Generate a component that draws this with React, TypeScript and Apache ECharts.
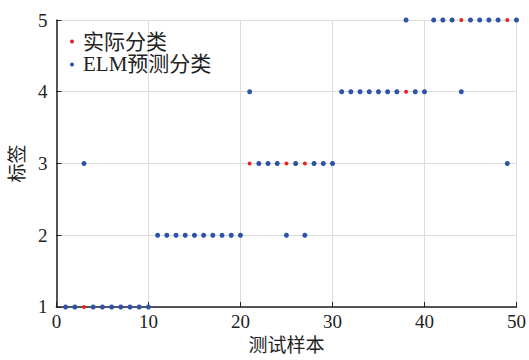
import React, { useEffect, useRef } from "react";
import * as echarts from "echarts";

const samples: number[] = Array.from({ length: 50 }, (_, i) => i + 1);
const actualClass: number[] = [
  1, 1, 1, 1, 1, 1, 1, 1, 1, 1,
  2, 2, 2, 2, 2, 2, 2, 2, 2, 2,
  3, 3, 3, 3, 3, 3, 3, 3, 3, 3,
  4, 4, 4, 4, 4, 4, 4, 4, 4, 4,
  5, 5, 5, 5, 5, 5, 5, 5, 5, 5,
];
const predictedClass: number[] = [
  1, 1, 3, 1, 1, 1, 1, 1, 1, 1,
  2, 2, 2, 2, 2, 2, 2, 2, 2, 2,
  4, 3, 3, 3, 2, 3, 2, 3, 3, 3,
  4, 4, 4, 4, 4, 4, 4, 5, 4, 4,
  5, 5, 5, 4, 5, 5, 5, 5, 3, 5,
];
const seriesNames: string[] = ["实际分类", "ELM预测分类"];
const xAxisName = "测试样本";
const yAxisName = "标签";

const FONT = "'Liberation Serif', 'Noto Sans CJK SC', serif";
const RED = "#e8242a";
const BLUE = "#2a55a8";

export default function App() {
  const ref = useRef<HTMLDivElement>(null);
  useEffect(() => {
    if (!ref.current) return;
    const chart = echarts.init(ref.current, undefined, { renderer: "svg" });
    chart.setOption({
      animation: false,
      backgroundColor: "#fff",
      textStyle: { fontFamily: FONT },
      grid: { left: 55, right: 12, top: 20, bottom: 47, containLabel: false },
      legend: {
        left: 65,
        top: 26,
        orient: "vertical",
        itemGap: 2,
        itemWidth: 4,
        itemHeight: 4,
        icon: "circle",
        textStyle: { fontFamily: FONT, fontSize: 21, color: "#222", padding: [0, 0, 0, 4] },
        data: [
          { name: seriesNames[0], itemStyle: { color: RED, opacity: 1 } },
          { name: seriesNames[1], itemStyle: { color: BLUE, opacity: 1 } },
        ],
      },
      xAxis: {
        type: "value",
        min: 0,
        max: 50,
        interval: 10,
        name: xAxisName,
        nameLocation: "middle",
        nameGap: 29,
        nameTextStyle: { fontFamily: FONT, fontSize: 19, color: "#222" },
        axisLine: { show: true, onZero: false, lineStyle: { color: "#222", width: 1.5 } },
        axisTick: { show: true, inside: true, length: 5, lineStyle: { color: "#222" } },
        axisLabel: { fontFamily: FONT, fontSize: 19, color: "#222", margin: 5 },
        splitLine: { show: true, lineStyle: { color: "#dcdcdc", width: 1 } },
      },
      yAxis: {
        type: "value",
        min: 1,
        max: 5,
        interval: 1,
        name: yAxisName,
        nameLocation: "middle",
        nameGap: 24,
        nameRotate: 90,
        nameTextStyle: { fontFamily: FONT, fontSize: 19, color: "#222" },
        axisLine: { show: true, onZero: false, lineStyle: { color: "#222", width: 1.5 } },
        axisTick: { show: true, inside: true, length: 5, lineStyle: { color: "#222" } },
        axisLabel: { fontFamily: FONT, fontSize: 19, color: "#222", margin: 9 },
        splitLine: { show: true, lineStyle: { color: "#dcdcdc", width: 1 } },
      },
      series: [
        {
          name: seriesNames[0],
          type: "scatter",
          symbol: "circle",
          symbolSize: 4,
          itemStyle: { color: RED, opacity: 1 },
          data: samples.map((s, i) => [s, actualClass[i]]),
          clip: false,
          z: 2,
        },
        {
          name: seriesNames[1],
          type: "scatter",
          symbol: "circle",
          symbolSize: 5,
          itemStyle: { color: BLUE, opacity: 1 },
          data: samples.map((s, i) => [s, predictedClass[i]]),
          clip: false,
          z: 3,
        },
      ],
    });
    return () => chart.dispose();
  }, []);
  return <div ref={ref} style={{ width: 529, height: 360, position: "absolute", left: 0, top: 0 }} />;
}
